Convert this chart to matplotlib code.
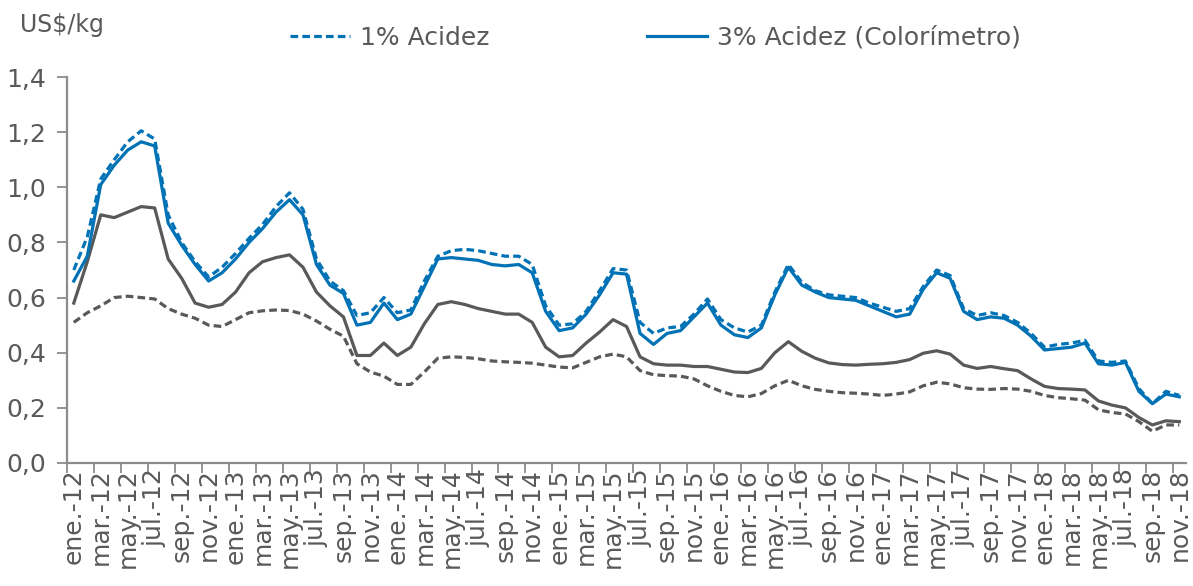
import numpy as np
import matplotlib.pyplot as plt
from matplotlib.lines import Line2D

# meses ene-12 .. nov-18
meses = ['ene.', 'feb.', 'mar.', 'abr.', 'may.', 'jun.',
         'jul.', 'ago.', 'sep.', 'oct.', 'nov.', 'dic.']
anios = ['12', '13', '14', '15', '16', '17', '18']
fechas = [m + '-' + a for a in anios for m in meses][:83]

# 1% Acidez (azul, discontinua)
acidez_1_azul = [
    0.70, 0.82, 1.03, 1.10, 1.165, 1.205, 1.175, 0.90, 0.80, 0.73, 0.675, 0.71,
    0.76, 0.815, 0.865, 0.93, 0.98, 0.92, 0.74, 0.66, 0.625, 0.535, 0.545, 0.60,
    0.545, 0.555, 0.66, 0.75, 0.77, 0.775, 0.77, 0.76, 0.75, 0.75, 0.72, 0.57,
    0.50, 0.505, 0.55, 0.625, 0.705, 0.70, 0.51, 0.47, 0.49, 0.495, 0.54, 0.595,
    0.52, 0.49, 0.475, 0.50, 0.62, 0.72, 0.655, 0.625, 0.61, 0.605, 0.60, 0.58,
    0.565, 0.55, 0.56, 0.64, 0.70, 0.68, 0.56, 0.535, 0.545, 0.535, 0.51, 0.47,
    0.42, 0.43, 0.435, 0.445, 0.37, 0.365, 0.37, 0.27, 0.215, 0.26, 0.245]

# 3% Acidez (Colorímetro) (azul, continua)
acidez_3_azul = [
    0.66, 0.75, 1.01, 1.08, 1.135, 1.165, 1.15, 0.87, 0.79, 0.72, 0.66, 0.69,
    0.74, 0.80, 0.85, 0.91, 0.955, 0.90, 0.72, 0.645, 0.615, 0.50, 0.51, 0.58,
    0.52, 0.54, 0.64, 0.74, 0.745, 0.74, 0.735, 0.72, 0.715, 0.72, 0.69, 0.55,
    0.48, 0.49, 0.54, 0.61, 0.69, 0.685, 0.47, 0.43, 0.47, 0.48, 0.53, 0.58,
    0.50, 0.465, 0.455, 0.49, 0.61, 0.71, 0.645, 0.62, 0.60, 0.595, 0.59, 0.57,
    0.55, 0.53, 0.54, 0.63, 0.69, 0.67, 0.55, 0.52, 0.53, 0.525, 0.50, 0.46,
    0.41, 0.415, 0.42, 0.435, 0.36, 0.355, 0.365, 0.26, 0.215, 0.25, 0.24]

# serie gris continua
gris_continua = [
    0.58, 0.73, 0.90, 0.89, 0.91, 0.93, 0.925, 0.74, 0.67, 0.58, 0.565, 0.575,
    0.62, 0.69, 0.73, 0.745, 0.755, 0.71, 0.62, 0.57, 0.53, 0.39, 0.39, 0.435,
    0.39, 0.42, 0.505, 0.575, 0.585, 0.575, 0.56, 0.55, 0.54, 0.54, 0.51, 0.42,
    0.385, 0.39, 0.435, 0.475, 0.52, 0.495, 0.385, 0.36, 0.355, 0.355, 0.35, 0.35,
    0.34, 0.33, 0.328, 0.343, 0.40, 0.44, 0.405, 0.38, 0.363, 0.357, 0.355, 0.358,
    0.36, 0.365, 0.375, 0.398, 0.407, 0.395, 0.355, 0.343, 0.35, 0.342, 0.335, 0.305,
    0.278, 0.27, 0.268, 0.265, 0.225, 0.21, 0.20, 0.165, 0.138, 0.153, 0.15]

# serie gris discontinua
gris_discontinua = [
    0.51, 0.545, 0.57, 0.60, 0.605, 0.60, 0.595, 0.56, 0.54, 0.525, 0.50, 0.495,
    0.52, 0.545, 0.552, 0.555, 0.553, 0.54, 0.515, 0.485, 0.46, 0.36, 0.33, 0.315,
    0.285, 0.285, 0.33, 0.38, 0.385, 0.383, 0.378, 0.37, 0.367, 0.365, 0.362, 0.355,
    0.348, 0.345, 0.365, 0.385, 0.395, 0.385, 0.335, 0.32, 0.317, 0.315, 0.305, 0.28,
    0.26, 0.245, 0.24, 0.252, 0.28, 0.30, 0.28, 0.267, 0.26, 0.255, 0.253, 0.25,
    0.245, 0.25, 0.258, 0.28, 0.293, 0.287, 0.273, 0.268, 0.267, 0.27, 0.268, 0.26,
    0.245, 0.237, 0.233, 0.228, 0.193, 0.183, 0.178, 0.15, 0.115, 0.138, 0.138]

azul = '#0072B5'
gris = '#595959'
texto = '#595959'
eje = '#8C8C8C'

plt.rcParams['font.family'] = ['DejaVu Sans']

fig = plt.figure(figsize=(11.93, 5.86), dpi=100)
ax = fig.add_axes([0.0562, 0.2099, 0.938, 0.6587])

x = np.arange(len(fechas))
lw = 2.3
ax.plot(x, gris_discontinua, color=gris, lw=lw, dashes=(2.4, 1.3))
ax.plot(x, gris_continua, color=gris, lw=lw)
ax.plot(x, acidez_1_azul, color=azul, lw=lw, dashes=(2.4, 1.3))
ax.plot(x, acidez_3_azul, color=azul, lw=lw)

ax.set_xlim(-0.5, len(fechas) - 0.5)
ax.set_ylim(0, 1.4)

# ticks entre categorías, etiquetas cada 2 meses
ax.set_xticks(np.arange(-0.5, len(fechas) - 1, 2))
ax.set_xticklabels([])
ax.set_xticks(x[::2], minor=True)
ax.set_xticklabels(fechas[::2], minor=True, rotation=90, fontsize=18, color=texto)
ax.tick_params(axis='x', which='major', length=7, width=1.3, color=eje)
ax.tick_params(axis='x', which='minor', length=0, pad=4)

yt = np.arange(0, 1.41, 0.2)
ax.set_yticks(yt)
ax.set_yticklabels([f'{v:.1f}'.replace('.', ',') for v in yt], fontsize=18, color=texto)
ax.tick_params(axis='y', length=7, width=1.3, color=eje, pad=8)

for s in ['top', 'right']:
    ax.spines[s].set_visible(False)
for s in ['left', 'bottom']:
    ax.spines[s].set_color(eje)
    ax.spines[s].set_linewidth(1.6)

fig.text(0.017, 1 - 25 / 586, 'US$/kg', fontsize=17, color=texto, va='center', ha='left')

handles = [Line2D([], [], color=azul, lw=lw, dashes=(2.4, 1.3)),
           Line2D([], [], color=azul, lw=lw)]
fig.legend(handles, ['1% Acidez', '3% Acidez (Colorímetro)'],
           loc='center', bbox_to_anchor=(0.549, 1 - 38 / 586), ncol=2,
           frameon=False, fontsize=18, labelcolor=texto,
           handlelength=2.4, handletextpad=0.4, columnspacing=6.3)

plt.savefig('out.png', dpi=100)
